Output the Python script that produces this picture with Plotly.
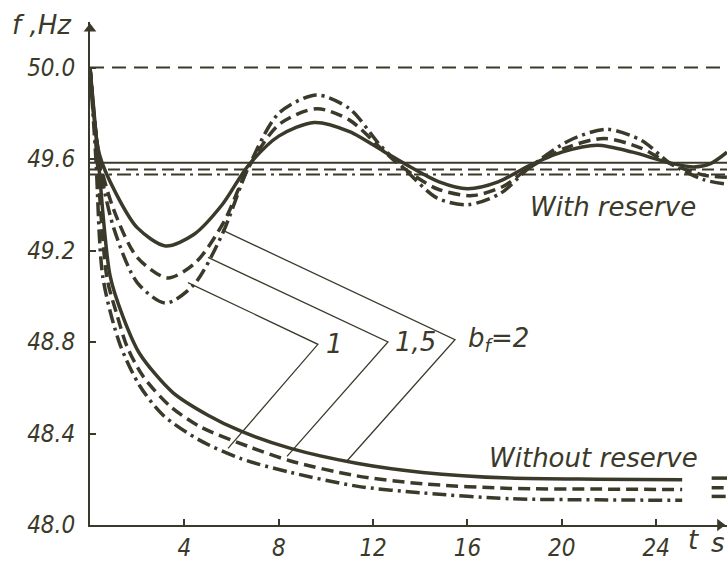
import plotly.graph_objects as go

INK = "#3b3a2a"

# ---- data ----
# Without reserve: frequency decay curves (b_f = 1, 1.5, 2)
t_wo_1 = [0, 0.35, 0.85, 1.4, 2.1, 3.5, 5.0, 6.4, 8.5, 11.3, 14.1, 17.8, 21.5, 25.1, None, 26.35, 27.0]
f_wo_1 = [50.0, 49.6, 49.09, 48.91, 48.75, 48.58, 48.48, 48.41, 48.335, 48.27, 48.23, 48.205, 48.2, 48.198, None, 48.205, 48.205]

t_wo_15 = [0, 0.3, 0.72, 1.14, 1.57, 2.25, 3.39, 4.66, 6.8, 8.5, 11.3, 14.1, 17.8, 21.5, 25.1, None, 26.35, 27.0]
f_wo_15 = [50.0, 49.6, 49.08, 48.92, 48.78, 48.65, 48.52, 48.43, 48.34, 48.28, 48.215, 48.18, 48.16, 48.157, 48.155, None, 48.163, 48.163]

t_wo_2 = [0, 0.25, 0.55, 1.27, 2.1, 3.1, 4.66, 6.4, 8.5, 11.3, 14.1, 17.8, 21.5, 25.1, None, 26.35, 27.0]
f_wo_2 = [50.0, 49.6, 49.08, 48.79, 48.61, 48.48, 48.37, 48.29, 48.23, 48.17, 48.14, 48.115, 48.11, 48.108, None, 48.125, 48.125]

# With reserve: damped oscillations (b_f = 1, 1.5, 2)
t_w_1 = [0, 0.4, 1.1, 2.0, 3.2, 4.4, 5.6, 6.7, 8.0, 9.5, 11.0, 12.5, 13.5, 14.8, 16.0, 17.3, 18.6, 20.0, 21.5, 23.0, 24.5, 25.6, 26.3, 27.0]
f_w_1 = [50.0, 49.62, 49.45, 49.30, 49.22, 49.27, 49.40, 49.57, 49.70, 49.76, 49.72, 49.63, 49.57, 49.50, 49.47, 49.50, 49.57, 49.63, 49.66, 49.63, 49.585, 49.565, 49.58, 49.63]

t_w_15 = [0, 0.4, 1.0, 2.0, 3.3, 4.5, 5.7, 6.7, 8.0, 9.6, 11.0, 12.5, 13.3, 14.7, 16.2, 17.5, 18.6, 20.2, 21.8, 23.3, 24.6, 26.0, 27.0]
f_w_15 = [50.0, 49.6, 49.38, 49.17, 49.08, 49.15, 49.33, 49.56, 49.75, 49.82, 49.77, 49.63, 49.56, 49.47, 49.44, 49.48, 49.56, 49.65, 49.69, 49.65, 49.58, 49.53, 49.52]

t_w_2 = [0, 0.4, 1.0, 2.0, 3.2, 4.4, 5.6, 6.7, 8.0, 9.6, 11.0, 12.3, 13.3, 14.7, 16.0, 17.4, 18.6, 20.3, 21.9, 23.4, 24.6, 26.0, 27.0]
f_w_2 = [50.0, 49.58, 49.30, 49.06, 48.97, 49.05, 49.27, 49.56, 49.80, 49.88, 49.82, 49.66, 49.56, 49.43, 49.40, 49.45, 49.56, 49.68, 49.73, 49.68, 49.58, 49.51, 49.49]

# Steady-state reference levels
t_ref = [0, 27.0]
ref_nominal = 50.0
ref_1 = 49.584
ref_15 = 49.554
ref_2 = 49.532

# Leader lines for curve labels (t, f)
lead_1_t = [4.15, 9.66, 5.85]
lead_1_f = [49.06, 48.79, 48.335]
lead_15_t = [5.0, 12.63, 8.35]
lead_15_f = [49.17, 48.80, 48.30]
lead_2_t = [5.59, 15.47, 10.89]
lead_2_f = [49.29, 48.81, 48.28]

x_ticks = [4, 8, 12, 16, 20, 24]
y_ticks = [48.0, 48.4, 48.8, 49.2, 49.6, 50.0]

X_MAX = 27.0
Y_MAX = 50.199

# ---- styles ----
SOLID = "solid"
DASH = "12px,6px"
DASHDOT = "14px,5px,3px,5px"

fig = go.Figure()

def add(t, f, dash, width):
    fig.add_trace(go.Scatter(x=t, y=f, mode="lines",
                             line=dict(color=INK, width=width, dash=dash, shape="spline", smoothing=0.8),
                             connectgaps=False, hoverinfo="skip"))

# reference lines
add(t_ref, [ref_nominal] * 2, "14px,8px", 2)
add(t_ref, [ref_1] * 2, SOLID, 2)
add(t_ref, [ref_15] * 2, DASH, 2)
add(t_ref, [ref_2] * 2, DASHDOT, 2)

# curves
add(t_wo_1, f_wo_1, SOLID, 3.5)
add(t_wo_15, f_wo_15, DASH, 3.5)
add(t_wo_2, f_wo_2, DASHDOT, 3.5)
add(t_w_1, f_w_1, SOLID, 3.5)
add(t_w_15, f_w_15, DASH, 3.5)
add(t_w_2, f_w_2, DASHDOT, 3.5)

# leader lines
for lt, lf in [(lead_1_t, lead_1_f), (lead_15_t, lead_15_f), (lead_2_t, lead_2_f)]:
    fig.add_trace(go.Scatter(x=lt, y=lf, mode="lines",
                             line=dict(color=INK, width=1.3), hoverinfo="skip"))

# axis arrowheads
fig.add_trace(go.Scatter(x=[0], y=[Y_MAX - 0.03], mode="markers", cliponaxis=False,
                         marker=dict(symbol="triangle-up", size=11, color=INK), hoverinfo="skip"))
fig.add_trace(go.Scatter(x=[X_MAX - 0.3], y=[48.0], mode="markers", cliponaxis=False,
                         marker=dict(symbol="triangle-right", size=11, color=INK), hoverinfo="skip"))

FONT_TXT = dict(family="DejaVu Sans", size=26, color=INK, style="italic")
FONT_TICK = dict(family="Liberation Sans Narrow, DejaVu Sans Condensed, Liberation Sans", size=24, color=INK, style="italic")

ann = [
    dict(x=lead_1_t[1] + 0.25, y=lead_1_f[1], text="1", xanchor="left", yanchor="middle", font=FONT_TXT),
    dict(x=lead_15_t[1] + 0.2, y=lead_15_f[1], text="1,5", xanchor="left", yanchor="middle", font=FONT_TXT),
    dict(x=lead_2_t[1] + 0.45, y=lead_2_f[1], text="b<sub>f</sub>=2", xanchor="left", yanchor="middle", font=FONT_TXT),
    dict(x=21.36, y=48.294, text="Without reserve", xanchor="center", yanchor="middle", font=FONT_TXT),
    dict(x=22.17, y=49.39, text="With reserve", xanchor="center", yanchor="middle", font=FONT_TXT),
    dict(xref="paper", yref="paper", x=-0.075, y=0.994, text="f ,Hz", xanchor="center", yanchor="middle", font=FONT_TXT),
    dict(xref="paper", yref="paper", x=0.947, y=-0.03, text="t", xanchor="center", yanchor="middle", font=FONT_TXT),
    dict(xref="paper", yref="paper", x=1.0, y=-0.035, text="s", xanchor="right", yanchor="middle", font=FONT_TXT),
]
for a in ann:
    a["showarrow"] = False
fig.update_layout(annotations=ann)

fig.update_layout(
    width=727, height=562,
    margin=dict(l=90, r=0, t=22, b=32),
    plot_bgcolor="white", paper_bgcolor="white",
    showlegend=False,
    xaxis=dict(range=[0, X_MAX], showline=True, linecolor=INK, linewidth=2,
               ticks="inside", ticklen=6, tickwidth=1.5, tickcolor=INK,
               tickvals=x_ticks, ticktext=[str(v) for v in x_ticks],
               tickfont=FONT_TICK, showgrid=False, zeroline=False),
    yaxis=dict(range=[48.0, Y_MAX], showline=True, linecolor=INK, linewidth=2,
               ticks="inside", ticklen=6, tickwidth=1.5, tickcolor=INK,
               tickvals=y_ticks, ticktext=[f"{v:.1f}" for v in y_ticks],
               tickfont=FONT_TICK, ticklabelstandoff=8, showgrid=False, zeroline=False),
)

fig.write_html("out.html")
